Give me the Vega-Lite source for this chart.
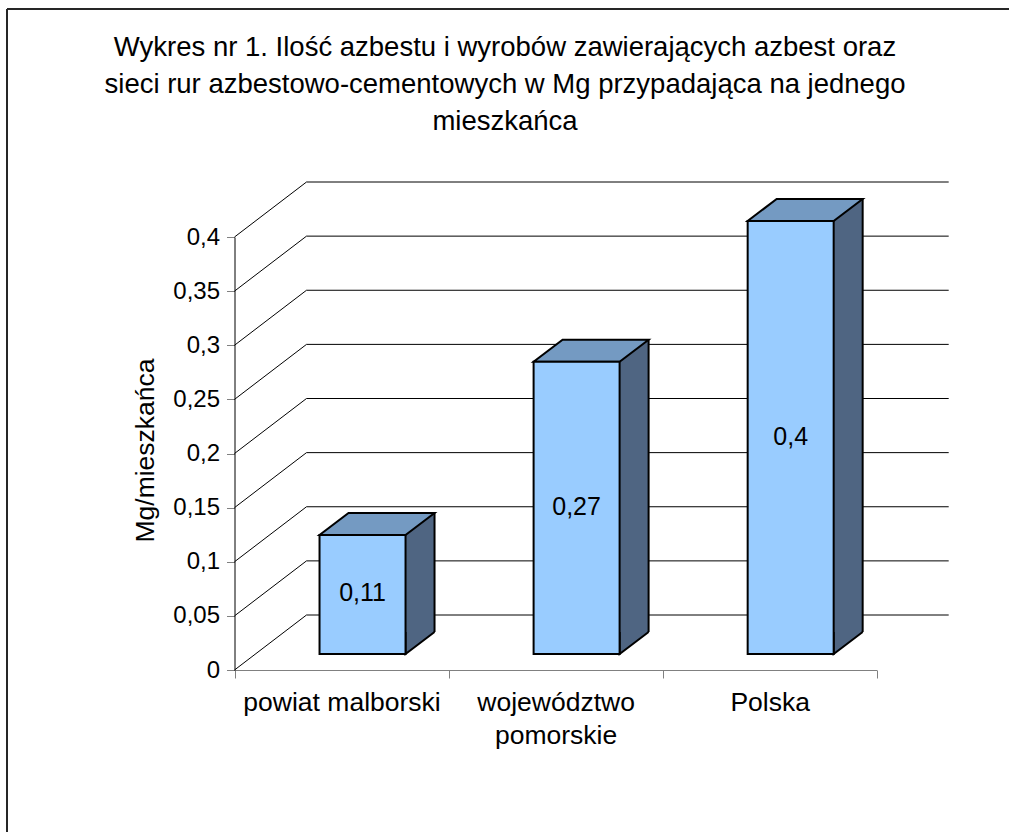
{
  "$schema": "https://vega.github.io/schema/vega-lite/v6.json",
  "width": 1002,
  "height": 823,
  "autosize": {"type": "none"},
  "padding": {"left": 7, "top": 9, "right": 0, "bottom": 0},
  "background": "white",
  "config": {
    "view": {"stroke": "#262626", "strokeWidth": 2, "strokeDash": [1002, 1825, 823, 0]},
    "font": "Liberation Sans",
    "locale": {"number": {"decimal": ",", "thousands": " ", "grouping": [3], "currency": ["", " zł"]}}
  },
  "title": {
    "text": ["Wykres nr 1. Ilość azbestu i wyrobów zawierających azbest oraz", "sieci rur azbestowo-cementowych w Mg przypadająca na jednego", "mieszkańca"],
    "font": "Liberation Sans",
    "fontSize": 27.5,
    "fontWeight": "normal",
    "color": "#000000",
    "lineHeight": 37,
    "anchor": "middle",
    "frame": "group",
    "baseline": "top",
    "offset": -126,
    "dx": -3
  },
  "datasets": {
    "bars": [
      {"region": "powiat malborski", "value": 0.11},
      {"region": "województwo pomorskie", "value": 0.27},
      {"region": "Polska", "value": 0.4}
    ],
    "ticks": [
      {"v": 0}, {"v": 0.05}, {"v": 0.1}, {"v": 0.15}, {"v": 0.2},
      {"v": 0.25}, {"v": 0.3}, {"v": 0.35}, {"v": 0.4}
    ]
  },
  "layer": [
    {
      "layer": [
        {
          "data": {"name": "ticks"},
          "mark": {"type": "rule", "xOffset": 72, "x2Offset": 72, "yOffset": -55, "stroke": "#000000", "strokeWidth": 1},
          "encoding": {
            "x": {"datum": "powiat malborski", "type": "nominal", "bandPosition": 0},
            "x2": {"datum": "Polska", "bandPosition": 1},
            "y": {"field": "v", "type": "quantitative"}
          }
        },
        {
          "data": {"name": "ticks"},
          "mark": {"type": "point", "shape": "M0,0L72,-55", "size": 4, "filled": false, "stroke": "#000000", "strokeWidth": 1, "opacity": 1},
          "encoding": {
            "x": {"datum": "powiat malborski", "type": "nominal", "bandPosition": 0},
            "y": {"field": "v", "type": "quantitative"}
          }
        },
        {
          "data": {"name": "bars"},
          "mark": {"type": "bar", "width": 29, "xOffset": 78.5, "yOffset": -38, "y2Offset": -38, "fill": "#4f6582", "strokeWidth": 0},
          "encoding": {
            "x": {"field": "region", "type": "nominal", "sort": null},
            "y": {"field": "value", "type": "quantitative"}
          }
        },
        {
          "data": {"name": "bars"},
          "mark": {"type": "rule", "xOffset": 93, "yOffset": -38, "y2Offset": -38, "stroke": "#000000", "strokeWidth": 2},
          "encoding": {
            "x": {"field": "region", "type": "nominal", "sort": null},
            "y": {"field": "value", "type": "quantitative"},
            "y2": {"datum": 0}
          }
        },
        {
          "data": {"name": "bars"},
          "mark": {"type": "point", "shape": "M0,-22L0,0L29,-22", "size": 4, "filled": true, "fill": "#4f6582", "stroke": "#000000", "strokeWidth": 2, "strokeJoin": "miter", "opacity": 1, "xOffset": 64, "yOffset": -16},
          "encoding": {
            "x": {"field": "region", "type": "nominal", "sort": null},
            "y": {"datum": 0, "type": "quantitative"}
          }
        },
        {
          "data": {"name": "bars"},
          "mark": {"type": "point", "shape": "M0,0L86,0L115,-22L29,-22Z", "size": 4, "filled": true, "fill": "#749ac2", "stroke": "#000000", "strokeWidth": 2, "strokeJoin": "miter", "opacity": 1, "xOffset": -22, "yOffset": -16},
          "encoding": {
            "x": {"field": "region", "type": "nominal", "sort": null},
            "y": {"field": "value", "type": "quantitative"}
          }
        },
        {
          "data": {"name": "bars"},
          "mark": {"type": "bar", "width": 86, "xOffset": 21, "yOffset": -16, "y2Offset": -16, "fill": "#99ccff", "stroke": "#000000", "strokeWidth": 2, "strokeJoin": "miter"},
          "encoding": {
            "x": {
              "field": "region", "type": "nominal", "sort": null,
              "scale": {"domain": ["powiat malborski", "województwo pomorskie", "Polska"], "range": [227.5, 869.7], "paddingInner": 0, "paddingOuter": 0},
              "axis": {
                "title": null, "orient": "bottom", "offset": -162,
                "domainColor": "#808080", "tickColor": "#808080", "tickSize": 8, "tickBand": "extent",
                "labelAngle": 0, "labelAlign": "center", "labelFont": "Liberation Sans", "labelFontSize": 26.5, "labelColor": "#000000",
                "labelBaseline": "alphabetic", "labelPadding": 32, "labelLineHeight": 33, "labelLimit": 500,
                "labelExpr": "datum.label == 'województwo pomorskie' ? ['województwo', 'pomorskie'] : datum.label",
                "grid": false
              }
            },
            "y": {
              "field": "value", "type": "quantitative",
              "scale": {"domain": [0, 0.4], "range": [661, 228], "nice": false, "zero": true},
              "axis": {
                "title": "Mg/mieszkańca", "values": [0, 0.05, 0.1, 0.15, 0.2, 0.25, 0.3, 0.35, 0.4], "format": "~g",
                "offset": -227.5, "domainColor": "#000000", "tickColor": "#808080", "tickSize": 8,
                "labelPadding": 7, "labelFont": "Liberation Sans", "labelFontSize": 24, "labelColor": "#000000",
                "labelFlush": false, "labelOverlap": false,
                "titleFont": "Liberation Sans", "titleFontSize": 26.5, "titleFontWeight": "normal", "titleColor": "#000000",
                "titleX": -89.5, "titleY": 441, "titleAngle": -90, "titleBaseline": "middle", "titleAlign": "center",
                "grid": false
              }
            }
          }
        }
      ]
    },
    {
      "data": {"name": "bars"},
      "mark": {"type": "text", "font": "Liberation Sans", "fontSize": 25, "color": "#000000", "fill": "#000000", "align": "center", "baseline": "middle", "xOffset": 21, "yOffset": -17},
      "encoding": {
        "x": {"field": "region", "type": "nominal", "sort": null},
        "y": {"field": "value", "type": "quantitative", "scale": {"domain": [0, 0.8], "range": [661, 228], "nice": false, "zero": true}, "axis": null},
        "text": {"field": "value", "type": "quantitative", "format": "~g"}
      }
    }
  ],
  "resolve": {"scale": {"y": "independent"}}
}
